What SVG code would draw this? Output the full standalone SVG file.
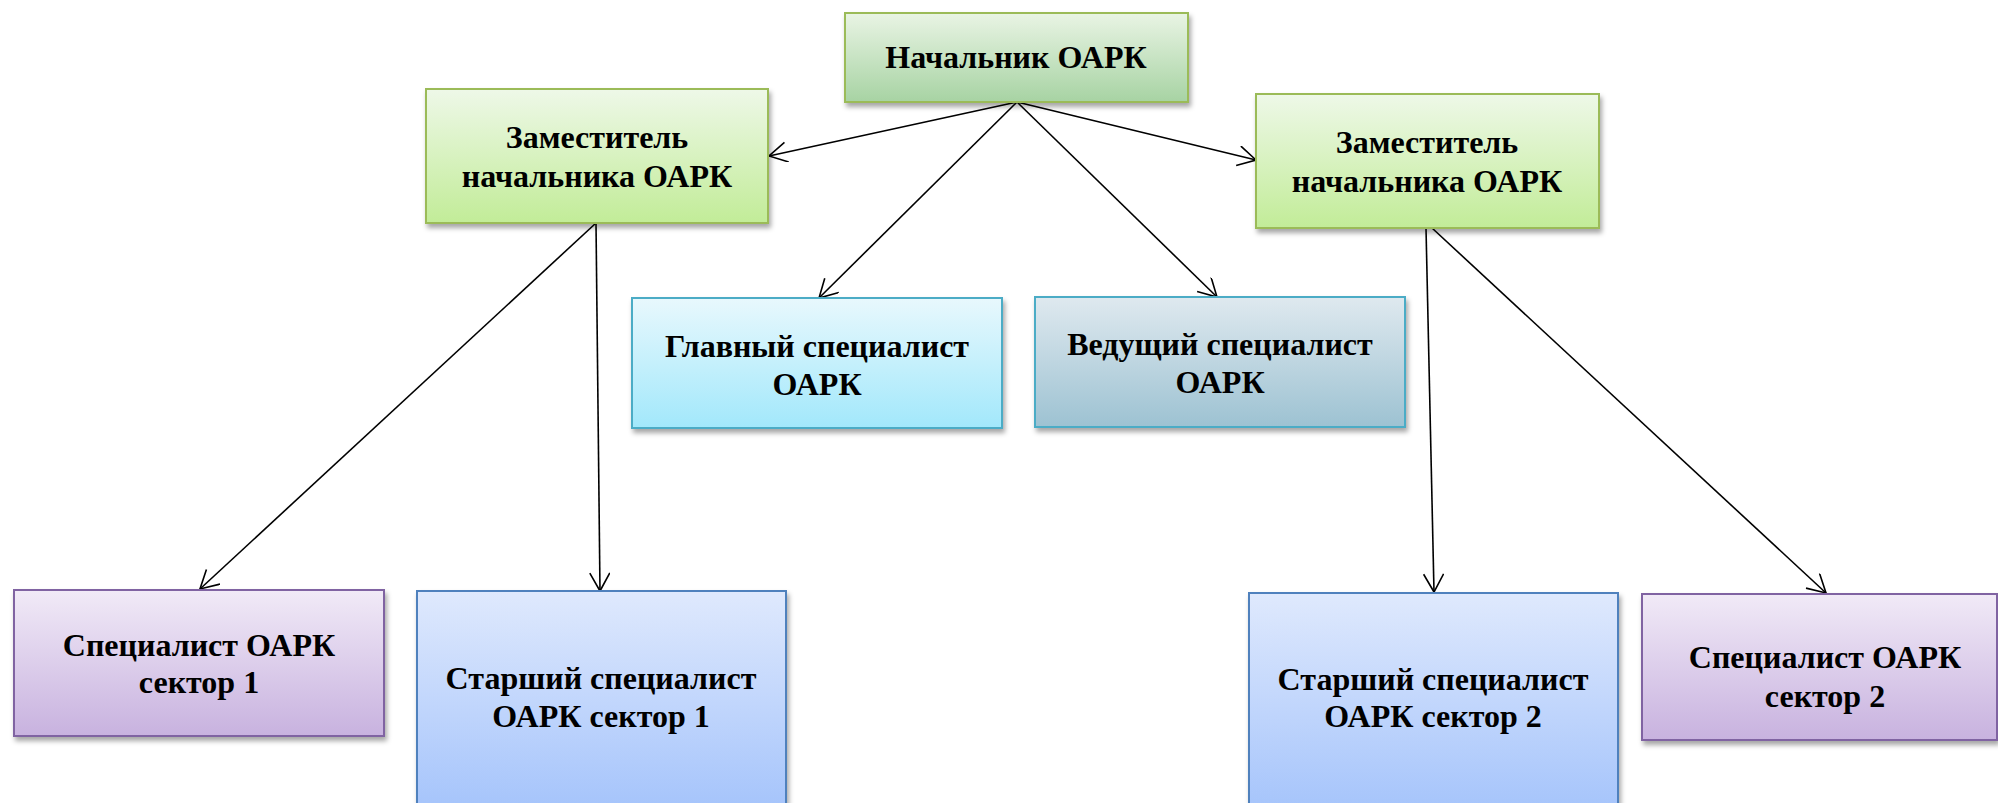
<svg xmlns="http://www.w3.org/2000/svg" width="1998" height="803" viewBox="0 0 1998 803">
<style>
.t{font-family:"Liberation Serif","Times New Roman",serif;font-weight:bold;font-size:32px;fill:#000;text-anchor:middle}
.c{fill:none;stroke:#000;stroke-width:1.6}
.b{stroke-width:2;filter:url(#sh)}
</style>
<defs>
<filter id="sh" x="-10%" y="-10%" width="130%" height="140%">
<feDropShadow dx="2" dy="4" stdDeviation="2.5" flood-color="#000" flood-opacity="0.35"/>
</filter>
<linearGradient id="gTop" x1="0" y1="0" x2="0" y2="1"><stop offset="0" stop-color="#e9f4e4"/><stop offset="1" stop-color="#a7d3a3"/></linearGradient>
<linearGradient id="gDep" x1="0" y1="0" x2="0" y2="1"><stop offset="0" stop-color="#eef8e8"/><stop offset="1" stop-color="#c2ec98"/></linearGradient>
<linearGradient id="gCy" x1="0" y1="0" x2="0" y2="1"><stop offset="0" stop-color="#e8f8fd"/><stop offset="1" stop-color="#a2e8fb"/></linearGradient>
<linearGradient id="gGr" x1="0" y1="0" x2="0" y2="1"><stop offset="0" stop-color="#dfe9ef"/><stop offset="1" stop-color="#9dc2d2"/></linearGradient>
<linearGradient id="gPu" x1="0" y1="0" x2="0" y2="1"><stop offset="0" stop-color="#f1eaf7"/><stop offset="1" stop-color="#c8b2df"/></linearGradient>
<linearGradient id="gBl" x1="0" y1="0" x2="0" y2="1"><stop offset="0" stop-color="#dfe9fd"/><stop offset="1" stop-color="#a2c2fb"/></linearGradient>
<marker id="ar" markerUnits="userSpaceOnUse" markerWidth="24" markerHeight="24" refX="20" refY="10" orient="auto">
<path d="M2,0 L20,10 L2,20" fill="none" stroke="#000" stroke-width="1.6"/>
</marker>
</defs>
<g id="connectors">
<line class="c" x1="1017" y1="102" x2="769" y2="156" marker-end="url(#ar)"/>
<line class="c" x1="1017" y1="102" x2="1256" y2="160" marker-end="url(#ar)"/>
<line class="c" x1="1017" y1="102" x2="819" y2="298" marker-end="url(#ar)"/>
<line class="c" x1="1017" y1="102" x2="1217" y2="297" marker-end="url(#ar)"/>
<line class="c" x1="596" y1="223" x2="200" y2="589" marker-end="url(#ar)"/>
<line class="c" x1="596" y1="223" x2="600" y2="591" marker-end="url(#ar)"/>
<line class="c" x1="1426" y1="228" x2="1434" y2="592" marker-end="url(#ar)"/>
<line class="c" x1="1432" y1="228" x2="1826" y2="593" marker-end="url(#ar)"/>
</g>
<g id="n-head">
<rect class="b" x="845" y="13" width="343" height="89" fill="url(#gTop)" stroke="#9bbb59"/>
<text class="t" x="1016" y="68">Начальник ОАРК</text>
</g>
<g id="n-dep1">
<rect class="b" x="426" y="89" width="342" height="134" fill="url(#gDep)" stroke="#9bbb59"/>
<text class="t" x="597" y="148">Заместитель</text>
<text class="t" x="597" y="187">начальника ОАРК</text>
</g>
<g id="n-dep2">
<rect class="b" x="1256" y="94" width="343" height="134" fill="url(#gDep)" stroke="#9bbb59"/>
<text class="t" x="1427" y="153">Заместитель</text>
<text class="t" x="1427" y="192">начальника ОАРК</text>
</g>
<g id="n-glav">
<rect class="b" x="632" y="298" width="370" height="130" fill="url(#gCy)" stroke="#4bacc6"/>
<text class="t" x="817" y="357">Главный специалист</text>
<text class="t" x="817" y="395">ОАРК</text>
</g>
<g id="n-ved">
<rect class="b" x="1035" y="297" width="370" height="130" fill="url(#gGr)" stroke="#4bacc6"/>
<text class="t" x="1220" y="355">Ведущий специалист</text>
<text class="t" x="1220" y="393">ОАРК</text>
</g>
<g id="n-spec1">
<rect class="b" x="14" y="590" width="370" height="146" fill="url(#gPu)" stroke="#8064a2"/>
<text class="t" x="199" y="656">Специалист ОАРК</text>
<text class="t" x="199" y="693">сектор 1</text>
</g>
<g id="n-star1">
<rect class="b" x="417" y="591" width="369" height="230" fill="url(#gBl)" stroke="#4f81bd"/>
<text class="t" x="601" y="689">Старший специалист</text>
<text class="t" x="601" y="727">ОАРК сектор 1</text>
</g>
<g id="n-star2">
<rect class="b" x="1249" y="593" width="369" height="230" fill="url(#gBl)" stroke="#4f81bd"/>
<text class="t" x="1433" y="690">Старший специалист</text>
<text class="t" x="1433" y="727">ОАРК сектор 2</text>
</g>
<g id="n-spec2">
<rect class="b" x="1642" y="594" width="355" height="146" fill="url(#gPu)" stroke="#8064a2"/>
<text class="t" x="1825" y="668">Специалист ОАРК</text>
<text class="t" x="1825" y="707">сектор 2</text>
</g>
</svg>
